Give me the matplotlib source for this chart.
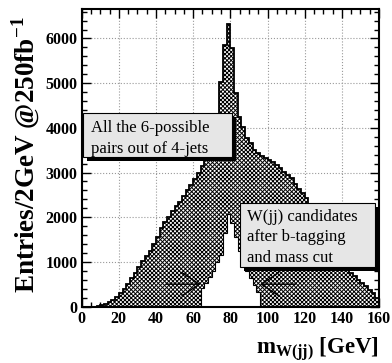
import numpy as np
import matplotlib
matplotlib.use("Agg")
import matplotlib.pyplot as plt
from matplotlib.patches import Rectangle
from matplotlib.ticker import MultipleLocator

plt.rcParams['font.family'] = ['Liberation Serif', 'DejaVu Serif']
plt.rcParams['mathtext.fontset'] = 'custom'
plt.rcParams['mathtext.rm'] = 'Liberation Serif'
plt.rcParams['mathtext.bf'] = 'Liberation Serif:bold'
plt.rcParams['hatch.linewidth'] = 0.7

# histogramy: 2 GeV binning, 0-160 GeV
bin_width = 2
all_pairs = [0, 0, 0, 0, 15, 35, 60, 90, 150, 220,
             300, 400, 510, 630, 750, 890, 1010, 1120, 1250, 1400,
             1560, 1760, 1900, 2010, 2140, 2260, 2350, 2480, 2600, 2720,
             2860, 3000, 3150, 3300, 3450, 3650, 4200, 5030, 5850, 6330,
             5780, 4775, 4240, 4020, 3770, 3650, 3500, 3430, 3380, 3330,
             3280, 3230, 3160, 3090, 3020, 2950, 2870, 2750, 2640, 2530,
             2420, 2300, 2170, 2040, 1900, 1760, 1620, 1480, 1340, 1200,
             1060, 900, 760, 680, 600, 520, 450, 380, 300, 200]

# W(jj) candidates after b-tagging and mass cut (64-96 GeV)
w_start = 64
w_cand = [420, 520, 650, 800, 1000, 1150, 1650, 2080,
          1860, 1550, 1250, 980, 800, 640, 480, 320]

cut_low, cut_high = 64, 96
arrow_y = 500

edges_all = np.arange(len(all_pairs) + 1) * bin_width
edges_w = w_start + np.arange(len(w_cand) + 1) * bin_width

fig = plt.figure(figsize=(3.92, 3.63), dpi=100)
ax = fig.add_axes([0.2084, 0.1556, 0.7584, 0.8196])

ax.grid(True, which='major', linestyle=':', color='#999999', linewidth=0.8)
ax.set_axisbelow(True)

ax.stairs(all_pairs, edges_all, fill=True, facecolor='white', edgecolor='black',
          hatch='xxxxxxxx', linewidth=0, zorder=2)
ax.stairs(all_pairs, edges_all, color='black', linewidth=1.3, zorder=3)
ax.stairs(w_cand, edges_w, fill=True, facecolor='white', edgecolor='black',
          linewidth=0.8, zorder=4)

# strzalki ciecia na mase
arr = dict(arrowstyle='->,head_length=0.9,head_width=0.6', lw=1.0, color='black',
           shrinkA=0, shrinkB=0, mutation_scale=14)
ax.annotate('', xy=(cut_low, arrow_y), xytext=(cut_low - 18.5, arrow_y), arrowprops=arr, zorder=5)
ax.annotate('', xy=(cut_high, arrow_y), xytext=(cut_high + 19, arrow_y), arrowprops=arr, zorder=5)

ax.set_xlim(0, 160)
ax.set_ylim(0, 6660)
ax.xaxis.set_major_locator(MultipleLocator(20))
ax.xaxis.set_minor_locator(MultipleLocator(5))
ax.yaxis.set_major_locator(MultipleLocator(1000))
ax.yaxis.set_minor_locator(MultipleLocator(200))
ax.tick_params(which='both', direction='in', top=True, right=True, width=1.0)
ax.tick_params(which='major', length=6.5, labelsize=11.5, pad=3)
ax.tick_params(which='minor', length=3.5)
for lab in ax.get_xticklabels() + ax.get_yticklabels():
    lab.set_fontweight('bold')
for s in ax.spines.values():
    s.set_linewidth(1.5)
    s.set_zorder(10)

# pudelka z opisem (z cieniem)
def box(x0, y0, x1, y1, lines, first, dy):
    off_x, off_y = 4 / 297.3, 4 / 297.5
    ax.add_patch(Rectangle((x0 + off_x, y0 - off_y), x1 - x0, y1 - y0, transform=ax.transAxes,
                           facecolor='black', edgecolor='none', zorder=6, clip_on=False))
    ax.add_patch(Rectangle((x0, y0), x1 - x0, y1 - y0, transform=ax.transAxes,
                           facecolor='#e6e6e6', edgecolor='black', linewidth=0.8, zorder=7))
    for i, t in enumerate(lines):
        ax.text(x0 + 0.025, y1 - first - i * dy, t, transform=ax.transAxes,
                ha='left', va='center', fontsize=12, zorder=8)

box(0.005, 0.5035, 0.5045, 0.649, ['All the 6-possible', 'pairs out of 4-jets'], 0.05, 0.0706)
box(0.532, 0.1328, 0.9866, 0.349, ['W(jj) candidates', 'after b-tagging', 'and mass cut'], 0.047, 0.069)

ax.set_ylabel(r'Entries/2GeV @250fb$^{\mathbf{-1}}$', fontsize=19.5, fontweight='bold')
ax.yaxis.set_label_coords(-0.135, 0.51)
ax.set_xlabel(r'$\mathbf{m_{W(jj)}}$ [GeV]', fontsize=16.5, fontweight='bold')
ax.xaxis.set_label_coords(1.0, -0.095)
ax.xaxis.label.set_horizontalalignment('right')

fig.savefig('out.png', dpi=100)
